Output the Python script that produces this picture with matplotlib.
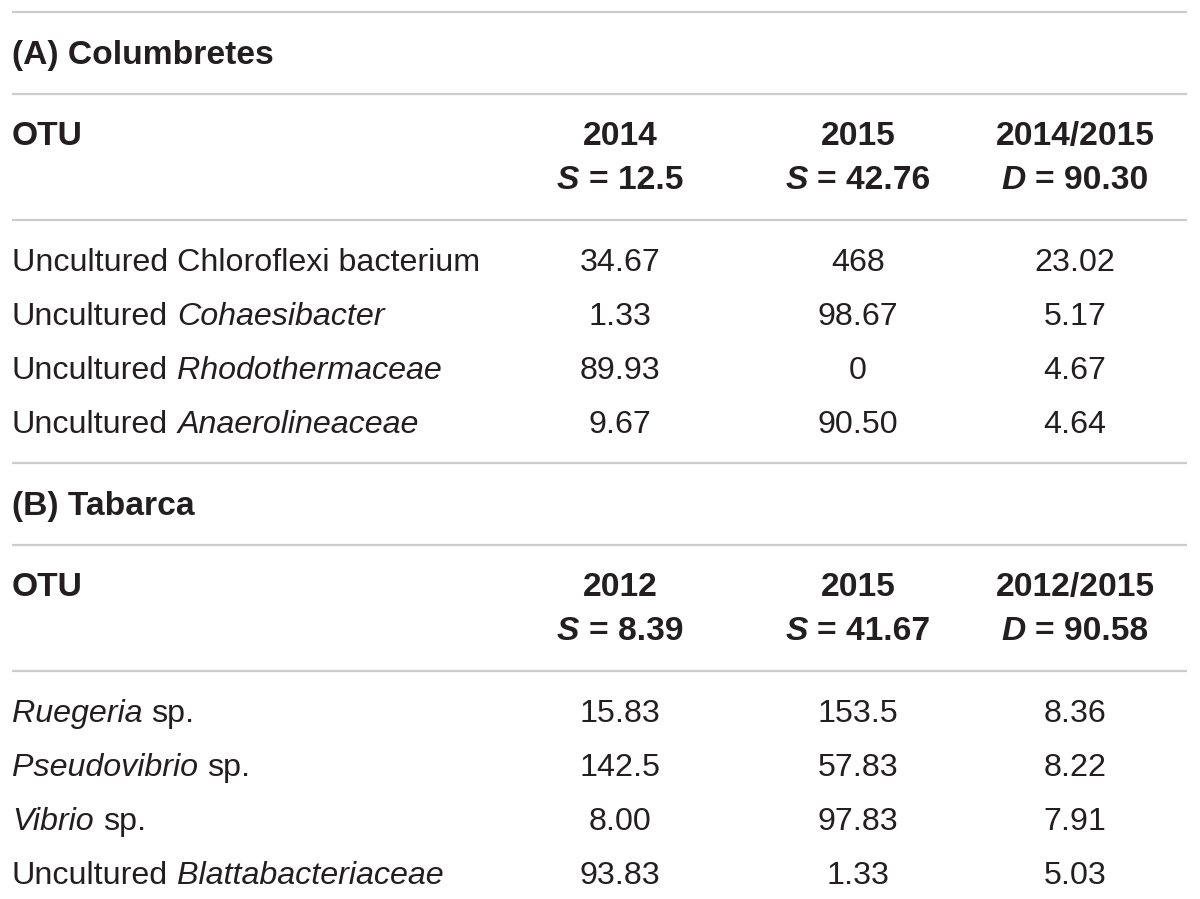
import matplotlib.pyplot as plt

plt.rcParams['font.family'] = ['Liberation Sans', 'DejaVu Sans']

# table content
sections = ['(A) Columbretes', '(B) Tabarca']
years = [['2014', '2015', '2014/2015'], ['2012', '2015', '2012/2015']]
stats = [[('S', '12.5'), ('S', '42.76'), ('D', '90.30')],
         [('S', '8.39'), ('S', '41.67'), ('D', '90.58')]]
otus = [
    [[('Uncultured Chloroflexi bacterium', 'normal')],
     [('Uncultured ', 'normal'), ('Cohaesibacter', 'italic')],
     [('Uncultured ', 'normal'), ('Rhodothermaceae', 'italic')],
     [('Uncultured ', 'normal'), ('Anaerolineaceae', 'italic')]],
    [[('Ruegeria', 'italic'), (' sp.', 'normal')],
     [('Pseudovibrio', 'italic'), (' sp.', 'normal')],
     [('Vibrio', 'italic'), (' sp.', 'normal')],
     [('Uncultured ', 'normal'), ('Blattabacteriaceae', 'italic')]],
]
values = [
    [['34.67', '468', '23.02'],
     ['1.33', '98.67', '5.17'],
     ['89.93', '0', '4.67'],
     ['9.67', '90.50', '4.64']],
    [['15.83', '153.5', '8.36'],
     ['142.5', '57.83', '8.22'],
     ['8.00', '97.83', '7.91'],
     ['93.83', '1.33', '5.03']],
]

FS = 23.2
FSB = 24.2
TXT = '#231f20'
LINE = '#cccccc'
col_x = [620, 858, 1075]

fig = plt.figure(figsize=(12, 8.99), dpi=100)
ax = fig.add_axes([0, 0, 1, 1])
ax.set_xlim(0, 1200)
ax.set_ylim(899, 0)
ax.axis('off')
renderer = fig.canvas.get_renderer()


def width_of(s, style, weight, size):
    t = ax.text(0, 0, s, fontsize=size, style=style, weight=weight)
    w = t.get_window_extent(renderer).width
    t.remove()
    return w


def seg_width(s, style, weight, size):
    # spaces at the ends are measured on their own
    core = s.strip(' ')
    sp = width_of('a a', style, weight, size) - width_of('aa', style, weight, size)
    w = (width_of(core, style, weight, size) if core else 0) + (len(s) - len(core)) * sp
    return w, core, len(s) - len(s.lstrip(' ')), sp


def rich(x, y, parts, ha='left', weight='normal', size=FS):
    info = [seg_width(s, st, weight, size) + (st,) for s, st in parts]
    total = sum(i[0] for i in info)
    cx = x - total / 2 if ha == 'center' else x
    for w, core, lead, sp, st in info:
        if core:
            ax.text(cx + lead * sp, y, core, fontsize=size, style=st, weight=weight,
                    color=TXT, ha='left', va='baseline')
        cx += w


def hline(y):
    ax.plot([12, 1187], [y, y], color=LINE, lw=1.6, solid_capstyle='butt')


for k in range(2):
    off = k * 451
    hline(12 + off)
    ax.text(12, 64 + off, sections[k], fontsize=FSB, weight='bold', color=TXT, va='baseline')
    hline(94 + off)
    ax.text(12, 145 + off, 'OTU', fontsize=FSB, weight='bold', color=TXT, va='baseline')
    for j in range(3):
        ax.text(col_x[j], 145 + off, years[k][j], fontsize=FSB, weight='bold',
                color=TXT, ha='center', va='baseline')
        letter, num = stats[k][j]
        rich(col_x[j], 189 + off, [(letter, 'italic'), (' = ' + num, 'normal')],
             ha='center', weight='bold', size=FSB)
    hline(220 + off)
    for i in range(4):
        yb = 271 + off + i * 54
        rich(12, yb, otus[k][i])
        for j in range(3):
            ax.text(col_x[j], yb, values[k][i][j], fontsize=FS, color=TXT,
                    ha='center', va='baseline')

fig.savefig('out.png', dpi=100)
